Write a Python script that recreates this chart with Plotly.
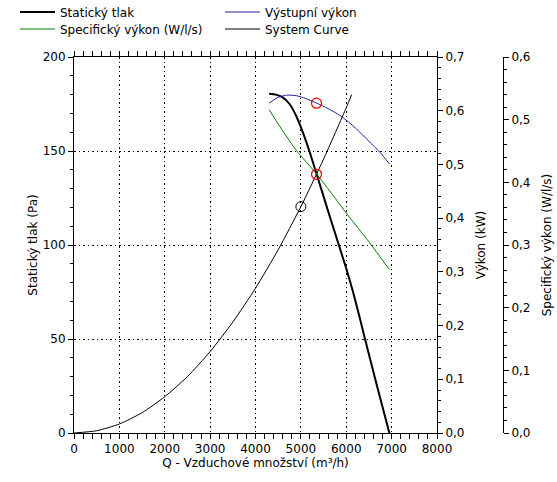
import plotly.graph_objects as go

# Static pressure (Pa)
q_static = [4300, 4450, 4600, 4750, 4900, 5050, 5200, 5350, 5600, 5850, 6000, 6150, 6300, 6450, 6700, 6950]
p_static = [180.5, 180, 178.5, 175, 168.5, 159.5, 149, 137.5, 118, 99, 87.5, 75, 61, 46.5, 23, 0]

# Output power (kW)
q_power = [4300, 4500, 4700, 4900, 5100, 5350, 5600, 5900, 6200, 6500, 6750, 6950]
p_power = [0.614, 0.625, 0.629, 0.628, 0.623, 0.614, 0.604, 0.589, 0.568, 0.543, 0.522, 0.501]

# Specific power (W/l/s)
q_spec = [4300, 4600, 4900, 5350, 5700, 6000, 6500, 6950]
p_spec = [0.516, 0.482, 0.451, 0.413, 0.380, 0.351, 0.305, 0.261]

# System curve (Pa)
q_sys = [0, 500, 1000, 1500, 2000, 2500, 3000, 3500, 4000, 4500, 5000, 5500, 6000, 6120]
p_sys = [0, 1.2, 4.8, 10.8, 19.3, 30, 43.3, 59, 77, 97.5, 120.4, 145.7, 173, 180]

# Operating points
op_q = [5345]
op_static = [137.6]
op_power = [0.614]
sys_pt_q = [5000]
sys_pt_p = [120.4]

FONT = "DejaVu Sans"
FS = 12
W, H = 557, 482
ML, MR, MT, MB = 74, 5, 57, 49
PW = W - ML - MR
PH = H - MT - MB
x_end = (437 - ML) / PW
y3_pos = (503 - ML) / PW

fig = go.Figure()
fig.add_trace(go.Scatter(x=q_static, y=p_static, mode="lines", name="Statický tlak",
                         line=dict(color="black", width=2, shape="spline", smoothing=0.6),
                         yaxis="y", legend="legend"))
fig.add_trace(go.Scatter(x=q_power, y=p_power, mode="lines", name="Výstupní výkon",
                         line=dict(color="#1f1f99", width=1, shape="spline", smoothing=0.6),
                         yaxis="y2", legend="legend"))
fig.add_trace(go.Scatter(x=q_spec, y=p_spec, mode="lines", name="Specifický výkon (W/l/s)",
                         line=dict(color="#008000", width=1, shape="spline", smoothing=0.6),
                         yaxis="y3", legend="legend2"))
fig.add_trace(go.Scatter(x=q_sys, y=p_sys, mode="lines", name="System Curve",
                         line=dict(color="black", width=1, shape="spline", smoothing=0.6),
                         yaxis="y", legend="legend2"))
fig.add_trace(go.Scatter(x=op_q, y=op_static, mode="markers", showlegend=False, yaxis="y",
                         marker=dict(symbol="circle-open", color="red", size=10, line=dict(width=1.3))))
fig.add_trace(go.Scatter(x=op_q, y=op_power, mode="markers", showlegend=False, yaxis="y2",
                         marker=dict(symbol="circle-open", color="red", size=10, line=dict(width=1.3))))
fig.add_trace(go.Scatter(x=sys_pt_q, y=sys_pt_p, mode="markers", showlegend=False, yaxis="y",
                         marker=dict(symbol="circle-open", color="black", size=10, line=dict(width=1))))

axis_common = dict(showline=True, linecolor="black", linewidth=1, ticks="outside",
                   ticklen=5, tickcolor="black", zeroline=False,
                   tickfont=dict(family=FONT, size=FS, color="black"))

grid_common = dict(showgrid=True, gridcolor="black", griddash="1.5px,3px", gridwidth=1)

legend_common = dict(orientation="h", xanchor="left", yanchor="middle",
                     entrywidth=155, itemwidth=35,
                     font=dict(family=FONT, size=FS, color="black"),
                     bgcolor="rgba(0,0,0,0)")

fig.update_layout(
    width=W, height=H,
    margin=dict(l=ML, r=MR, t=MT, b=MB, autoexpand=False),
    paper_bgcolor="white", plot_bgcolor="white",
    separators=", ",
    font=dict(family=FONT, size=FS, color="black"),
    showlegend=True,
    legend=dict(x=(15 - ML) / PW, y=1 + (MT - 12) / PH, **legend_common),
    legend2=dict(x=(15 - ML) / PW, y=1 + (MT - 29) / PH, **legend_common),
    xaxis=dict(domain=[0, x_end], range=[0, 8000], dtick=1000, mirror="allticks",
               minor=dict(dtick=200, ticks="outside", ticklen=3, tickcolor="black", showgrid=False),
               title=dict(text="Q - Vzduchové množství (m³/h)", font=dict(family=FONT, size=FS), standoff=0),
               **grid_common, **axis_common),
    yaxis=dict(range=[0, 200], dtick=50,
               minor=dict(dtick=10, ticks="outside", ticklen=3, tickcolor="black", showgrid=False),
               title=dict(text="Statický tlak (Pa)", font=dict(family=FONT, size=FS), standoff=2),
               **grid_common, **axis_common),
    yaxis2=dict(range=[0, 0.7], dtick=0.1, tickformat=".1f", overlaying="y", side="right",
                anchor="x", showgrid=False,
                minor=dict(dtick=0.02, ticks="outside", ticklen=3, tickcolor="black"),
                title=dict(text="Výkon (kW)", font=dict(family=FONT, size=FS), standoff=13),
                **axis_common),
    yaxis3=dict(range=[0, 0.6], dtick=0.1, tickformat=".1f", overlaying="y", side="right",
                anchor="free", position=y3_pos, showgrid=False,
                minor=dict(dtick=0.02, ticks="outside", ticklen=3, tickcolor="black"),
                title=dict(text="Specifický výkon (W/l/s)", font=dict(family=FONT, size=FS), standoff=13),
                **axis_common),
)

fig.write_html("out.html", config={"displayModeBar": False},
               post_script="document.body.style.margin='0';")
